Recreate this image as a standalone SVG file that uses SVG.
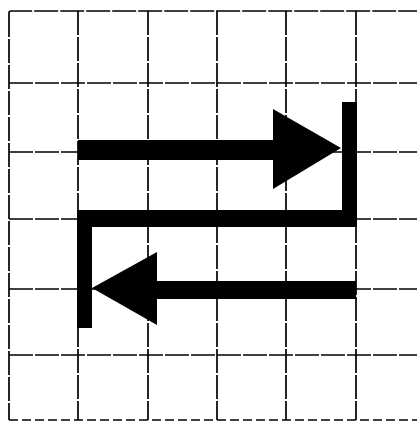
<svg xmlns="http://www.w3.org/2000/svg" width="417" height="423" viewBox="0 0 417 423">
<style>
.grid{stroke:#000;stroke-width:1.7;fill:none;stroke-dasharray:24 2}
.ink{fill:#000;stroke:none}
</style>
<rect width="417" height="423" fill="#fff"/>
<g id="grid" class="grid">
<path d="M9,13 Q9,11 11,11 H417"/>
<path d="M9,83 H417"/>
<path d="M9,152 H417"/>
<path d="M9,219 H417"/>
<path d="M9,289 H417"/>
<path d="M9,355 H417"/>
<path d="M9,420 H417" style="stroke-dasharray:9 4"/>
<path d="M9,13 V420"/>
<path d="M78,11 V420"/>
<path d="M148,11 V420"/>
<path d="M217,11 V420"/>
<path d="M286,11 V420"/>
<path d="M356,11 V420"/>
</g>
<g id="connectors">
<g id="arrow-right">
<rect class="ink" x="78" y="140" width="198" height="20"/>
<polygon class="ink" points="273,109 341,148 273,189"/>
</g>
<g id="bracket">
<rect class="ink" x="342" y="102" width="15" height="125"/>
<rect class="ink" x="77" y="210" width="280" height="17"/>
<rect class="ink" x="77" y="210" width="15" height="118"/>
</g>
<g id="arrow-left">
<rect class="ink" x="154" y="281" width="202" height="18"/>
<polygon class="ink" points="157,252 92,288 157,325"/>
</g>
</g>
</svg>
